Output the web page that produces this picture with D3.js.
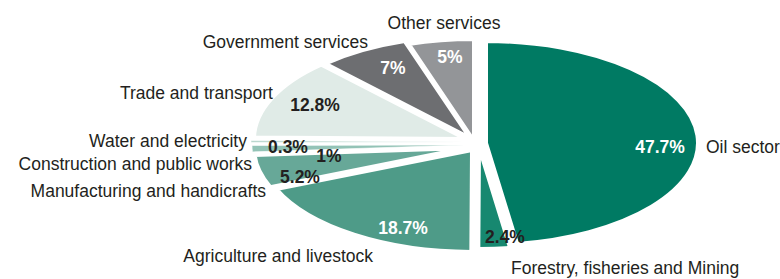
<!DOCTYPE html>
<html>
<head>
<meta charset="utf-8">
<script src="https://d3js.org/d3.v7.min.js"></script>
<style>
  body { margin: 0; background: #fff; }
  svg text { font-family: "Liberation Sans", Arial, Helvetica, sans-serif; }
</style>
</head>
<body>
<svg id="pie" width="780" height="279"></svg>
<script>
// slices, clockwise from 12 o'clock
const categories = [
  "Oil sector",
  "Forestry, fisheries and Mining",
  "Agriculture and livestock",
  "Manufacturing and handicrafts",
  "Construction and public works",
  "Water and electricity",
  "Trade and transport",
  "Government services",
  "Other services"
];
const shares = [47.7, 2.4, 18.7, 5.2, 1, 0.3, 12.8, 7, 5];
const shareLabels = ["47.7%", "2.4%", "18.7%", "5.2%", "1%", "0.3%", "12.8%", "7%", "5%"];

// styling
const colors = ["#007a63", "#178870", "#4e9b88", "#67a898", "#93c3b6", "#b7d6cc", "#e0ebe7", "#6d6e71", "#939598"];
const pctColors = ["#fff", "#231f20", "#fff", "#231f20", "#231f20", "#231f20", "#231f20", "#fff", "#fff"];

// pull-out of each slice (screen px)
const explode = [[10, 0], [3, 4], [-4, 7], [-10, 5], [-12, 2], [-13, -1], [-10, -4], [-6, -5], [-2, -2]];

// label placement relative to the pie centre
const pctPos = [[184, 4], [29, 94], [-73, 85], [-176, 34], [-147, 13], [-188, 4], [-161, -38], [-83, -75], [-26, -86]];
const calloutPos = [
  [230, 4, "start"], [35, 125, "start"], [-103, 113, "end"], [-210, 48, "end"],
  [-224, 21, "end"], [-229, -2, "end"], [-203, -50, "end"], [-108, -101, "end"], [-32, -120, "middle"]
];

const cx = 476, cy = 143, rx = 212, ry = 102;
const k = ry / rx;

const svg = d3.select("#pie");

const pie = d3.pie().sort(null).value(d => d);
const arcs = pie(shares);

const arc = d3.arc().innerRadius(0).outerRadius(rx);

// each slice: shift, then squash the circle into the ellipse
svg.append("g")
  .selectAll("path")
  .data(arcs)
  .enter()
  .append("path")
  .attr("transform", (d, i) => "translate(" + (cx + explode[i][0]) + "," + (cy + explode[i][1]) + ") scale(1," + k + ")")
  .attr("d", arc)
  .attr("fill", (d, i) => colors[i])
  .attr("stroke", "#fff")
  .attr("stroke-width", d => d.value < 2 ? 0.6 : 4)
  .attr("stroke-linejoin", "round")
  .attr("vector-effect", "non-scaling-stroke");

// percentage labels
svg.append("g")
  .selectAll("text")
  .data(arcs)
  .enter()
  .append("text")
  .attr("x", (d, i) => cx + pctPos[i][0])
  .attr("y", (d, i) => cy + pctPos[i][1])
  .attr("dy", "0.35em")
  .attr("text-anchor", "middle")
  .attr("font-size", 17.5)
  .attr("font-weight", "bold")
  .attr("fill", (d, i) => pctColors[i])
  .text((d, i) => shareLabels[i]);

// category labels
svg.append("g")
  .selectAll("text")
  .data(categories)
  .enter()
  .append("text")
  .attr("x", (d, i) => cx + calloutPos[i][0])
  .attr("y", (d, i) => cy + calloutPos[i][1])
  .attr("dy", "0.35em")
  .attr("text-anchor", (d, i) => calloutPos[i][2])
  .attr("font-size", 17.5)
  .attr("fill", "#231f20")
  .text(d => d);
</script>
</body>
</html>
